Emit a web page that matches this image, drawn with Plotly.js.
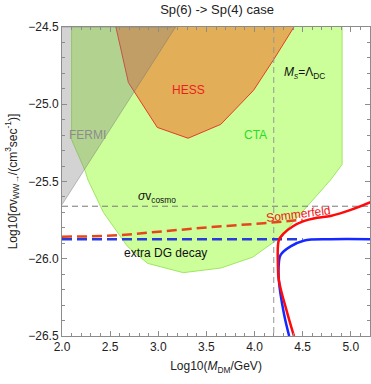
<!DOCTYPE html>
<html>
<head>
<meta charset="utf-8">
<script src="https://cdn.plot.ly/plotly-3.0.1.min.js"></script>
<style>
  body { margin: 0; background: #fff; }
  #chart { width: 371px; height: 384px; }
</style>
</head>
<body>
<div id="chart"></div>
<script>
// CTA sensitivity region (closed polygon)
const ctaX = [2.10, 2.10, 2.24, 2.27, 2.43, 2.68, 2.89, 3.26, 3.65, 3.98, 4.25, 4.79, 4.91, 4.91];
const ctaY = [-24.50, -25.23, -25.43, -25.49, -25.70, -25.92, -26.03, -26.09, -26.06, -25.99, -25.87, -25.49, -25.39, -24.50];

// HESS bound region
const hessX = [2.56, 2.69, 2.99, 3.31, 3.65, 3.99, 4.20, 4.41];
const hessY = [-24.50, -24.86, -25.15, -25.22, -25.13, -24.91, -24.71, -24.50];

// FERMI bound region
const fermiX = [2.0, 3.18, 2.0];
const fermiY = [-24.5, -24.5, -25.65];

// reference lines
const msLineX = 4.2;          // M_s = Lambda_DC
const cosmoY = -25.66;        // sigma v cosmo

// dashed curves
const sommerDashX = [2.0, 2.3, 2.6, 3.02, 3.54, 4.06, 4.5];
const sommerDashY = [-25.857, -25.855, -25.848, -25.825, -25.795, -25.772, -25.748];
const decayDashX = [2.0, 4.5];
const decayDashY = [-25.873, -25.873];

// solid curves
const sommerX = [4.41, 4.34, 4.253, 4.243, 4.253, 4.305, 4.40, 4.497, 4.65, 4.79, 5.0, 5.22];
const sommerY = [-26.5, -26.35, -26.138, -26.03, -25.88, -25.836, -25.79, -25.76, -25.735, -25.723, -25.684, -25.63];
const decayX = [4.36, 4.305, 4.253, 4.253, 4.27, 4.375, 4.51, 4.79, 5.22];
const decayY = [-26.5, -26.353, -26.138, -26.03, -25.976, -25.92, -25.883, -25.874, -25.874];

const traces = [
  { x: ctaX, y: ctaY, mode: 'lines', fill: 'toself', fillcolor: 'rgb(204,255,153)',
    line: { color: 'rgb(160,230,100)', width: 1 }, hoverinfo: 'skip' },
  { x: hessX, y: hessY, mode: 'lines', fill: 'toself', fillcolor: 'rgba(235,140,60,0.7)',
    line: { color: 'rgb(230,60,40)', width: 1 }, hoverinfo: 'skip' },
  { x: fermiX, y: fermiY, mode: 'lines', fill: 'toself', fillcolor: 'rgba(128,128,128,0.35)',
    line: { color: 'rgba(110,110,110,0.5)', width: 0.8 }, hoverinfo: 'skip' },
  { x: [msLineX, msLineX], y: [-24.5, -26.5], mode: 'lines',
    line: { color: 'rgb(150,150,150)', width: 1, dash: '6px,4px' } },
  { x: [2.0, 5.2], y: [cosmoY, cosmoY], mode: 'lines',
    line: { color: 'rgb(120,120,120)', width: 1, dash: '6px,4px' } },
  { x: sommerDashX, y: sommerDashY, mode: 'lines', line: { color: 'rgb(230,70,30)', width: 2.5, dash: '10px,5px' } },
  { x: decayDashX, y: decayDashY, mode: 'lines', line: { color: 'rgb(40,60,220)', width: 2.5, dash: '10px,5px' } },
  { x: decayX, y: decayY, mode: 'lines', line: { shape: 'spline', color: 'rgb(20,40,255)', width: 2.5 } },
  { x: sommerX, y: sommerY, mode: 'lines', line: { shape: 'spline', color: 'rgb(255,10,10)', width: 2.5 } }
];

const axisCommon = {
  showgrid: false, zeroline: false, showline: true, linecolor: 'rgb(140,140,140)', linewidth: 1,
  mirror: 'ticks', ticks: 'inside', ticklen: 5, tickcolor: 'rgb(140,140,140)',
  tickfont: { family: 'Liberation Sans, Arial, sans-serif', size: 12, color: '#222' },
  minor: { dtick: 0.1, ticks: 'inside', ticklen: 3, tickcolor: 'rgb(140,140,140)' }
};

const layout = {
  width: 371, height: 384,
  margin: { l: 62, r: 1, t: 27, b: 48 },
  paper_bgcolor: '#fff', plot_bgcolor: '#fff',
  showlegend: false,
  font: { family: 'Liberation Sans, Arial, sans-serif', color: '#222' },
  title: { text: 'Sp(6) -> Sp(4) case', x: 0.585, xanchor: 'center', y: 0.975, yanchor: 'middle',
    font: { size: 13, color: '#222' } },
  xaxis: Object.assign({}, axisCommon, {
    range: [2.0, 5.2], dtick: 0.5, tick0: 2, tickformat: '.1f',
    title: { text: 'Log10(<i>M</i><sub>DM</sub>/GeV)', font: { size: 12 }, standoff: 8 }
  }),
  yaxis: Object.assign({}, axisCommon, {
    range: [-26.5, -24.5], dtick: 0.5, tick0: -24.5, tickformat: '.1f',
    title: { text: 'Log10[<i>σ</i>v<sub>WW→</sub>/(cm<sup>3</sup>sec<sup>-1</sup>)]', font: { size: 12 }, standoff: 8 }
  }),
  annotations: [
    { x: 3.31, y: -24.91, text: 'HESS', showarrow: false, font: { size: 12, color: 'rgb(235,30,30)' } },
    { x: 4.01, y: -25.2, text: 'CTA', showarrow: false, font: { size: 12, color: 'rgb(40,220,40)' } },
    { x: 2.27, y: -25.2, text: 'FERMI', showarrow: false, font: { size: 12, color: 'rgb(140,140,140)' } },
    { x: 4.52, y: -24.8, text: '<i>M</i><sub><i>s</i></sub>=Λ<sub>DC</sub>', showarrow: false, font: { size: 12, color: '#111' } },
    { x: 2.99, y: -25.6, text: '<i>σ</i>v<sub>cosmo</sub>', showarrow: false, font: { size: 12, color: '#111' } },
    { x: 3.08, y: -25.96, text: 'extra DG decay', showarrow: false, font: { size: 12, color: '#111' } },
    { x: 4.46, y: -25.71, text: 'Sommerfeld', textangle: -7, showarrow: false, font: { size: 12, color: 'rgb(240,20,20)' } }
  ]
};

Plotly.newPlot('chart', traces, layout, { displayModeBar: false, staticPlot: true });
</script>
</body>
</html>
